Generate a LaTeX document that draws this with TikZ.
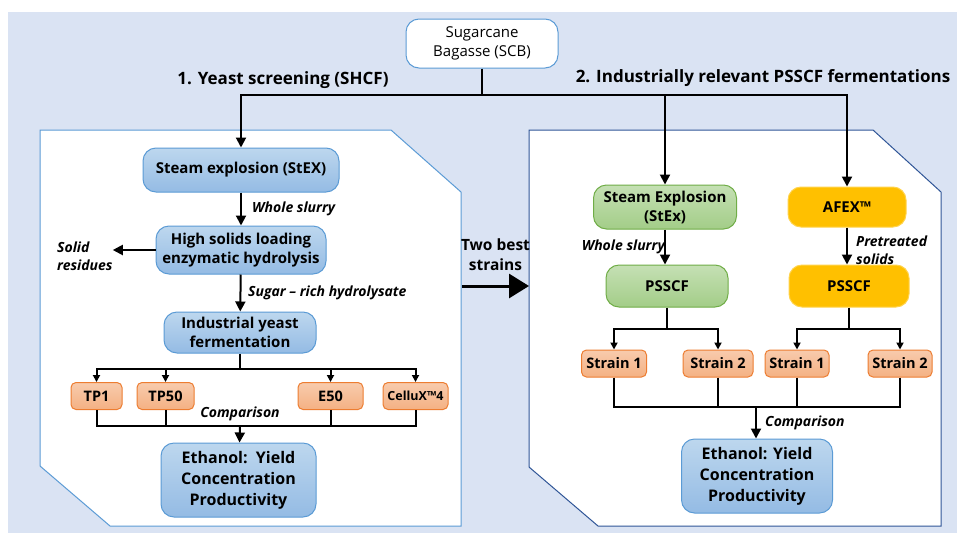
\documentclass[tikz,border=0pt]{standalone}
\usepackage{fontspec}
\setmainfont{Open Sans}
\usetikzlibrary{arrows.meta}
\definecolor{bgblue}{HTML}{DAE3F3}
\definecolor{panelL}{HTML}{5B9BD5}
\definecolor{panelR}{HTML}{2F5597}
\definecolor{bluetop}{HTML}{BDD7EE}
\definecolor{bluebot}{HTML}{94BBE4}
\definecolor{blueline}{HTML}{5B9BD5}
\definecolor{greentop}{HTML}{C5E0B4}
\definecolor{greenbot}{HTML}{A3CD88}
\definecolor{greenline}{HTML}{70AD47}
\definecolor{salmtop}{HTML}{F8CBAD}
\definecolor{salmbot}{HTML}{F4B183}
\definecolor{salmline}{HTML}{ED7D31}
\definecolor{afex}{HTML}{FFC000}
\begin{document}
\begin{tikzpicture}[x=1pt,y=-1pt,
  box/.style={rounded corners=13pt,align=center,inner sep=2pt,line width=1pt,
    font=\fontsize{15}{19}\selectfont\bfseries},
  bluebox/.style={box,draw=blueline,top color=bluetop,bottom color=bluebot},
  greenbox/.style={box,draw=greenline,top color=greentop,bottom color=greenbot},
  afexbox/.style={box,draw=afex!70!white,fill=afex},
  strainbox/.style={box,rounded corners=5pt,draw=salmline,top color=salmtop,bottom color=salmbot,
    minimum height=27pt,font=\fontsize{14.5}{17}\selectfont\bfseries},
  title/.style={inner sep=0pt,font=\fontsize{17}{20}\selectfont\bfseries},
  lbl/.style={inner sep=0pt,align=left,font=\fontsize{14}{18}\selectfont\bfseries\itshape},
  conn/.style={line width=2pt,-{Triangle[width=10pt,length=10pt]}},
  small/.style={line width=2pt,-{Triangle[width=7pt,length=7pt]}},
  line/.style={line width=2pt}]
\fill[bgblue] (8,12) rectangle (957,533);
\useasboundingbox (0,0) rectangle (957,533);
\draw[line width=1pt,draw=panelL,fill=white] (40,130) -- (391,130) -- (461,192) -- (461,526) -- (110,526) -- (40,466) -- cycle;
\draw[line width=1pt,draw=panelR,fill=white] (529,130) -- (873,130) -- (941,192) -- (941,526) -- (598,526) -- (529,467) -- cycle;

\node[box,draw=blueline,fill=white,minimum width=152pt,minimum height=49pt,font=\fontsize{15}{19}\selectfont] (scb) at (482,43.5) {Sugarcane\\Bagasse (SCB)};
\node[title] (t1) at (283,80) {1. Yeast screening (SHCF)};
\node[title] (t2) at (763,78) {2. Industrially relevant PSSCF fermentations};

\node[bluebox,minimum width=196pt,minimum height=44pt] (stex) at (241,170) {Steam explosion (StEX)};
\node[bluebox,minimum width=170pt,minimum height=48pt] (hyd) at (241,250) {High solids loading\\enzymatic hydrolysis};
\node[bluebox,minimum width=152pt,minimum height=41pt] (ferm) at (240,332.5) {Industrial yeast\\fermentation};
\node[strainbox,minimum width=51pt] (tp1) at (96.5,396) {TP1};
\node[strainbox,minimum width=57pt] (tp50) at (165.5,396) {TP50};
\node[strainbox,minimum width=65pt] (e50) at (330.5,396) {E50};
\node[strainbox,minimum width=65pt,font=\fontsize{12.5}{15}\selectfont\bfseries] (cellux) at (415.5,396) {CelluX™4};
\node[bluebox,minimum width=155pt,minimum height=74pt,font=\fontsize{16}{21}\selectfont\bfseries] (ethL) at (238.5,480) {Ethanol:\ \ Yield\\Concentration\\Productivity};

\node[greenbox,minimum width=143pt,minimum height=44pt] (stexR) at (665,207) {Steam Explosion\\(StEx)};
\node[afexbox,minimum width=118pt,minimum height=40pt] (afexR) at (847,207) {AFEX™};
\node[greenbox,minimum width=122pt,minimum height=42pt] (psG) at (667,286) {PSSCF};
\node[afexbox,minimum width=120pt,minimum height=42pt] (psO) at (849,286) {PSSCF};
\node[strainbox,minimum width=65pt] (s1a) at (614,363.5) {Strain 1};
\node[strainbox,minimum width=70pt] (s2a) at (718,363.5) {Strain 2};
\node[strainbox,minimum width=64pt] (s1b) at (797,363.5) {Strain 1};
\node[strainbox,minimum width=64pt] (s2b) at (900,363.5) {Strain 2};
\node[bluebox,minimum width=151pt,minimum height=74pt,font=\fontsize{16}{21}\selectfont\bfseries] (ethR) at (757,476) {Ethanol: Yield\\Concentration\\Productivity};

\node[lbl,anchor=west] (ws1) at (252,209) {Whole slurry};
\node[lbl,anchor=west] (solid) at (57,256) {Solid\\residues};
\node[lbl,anchor=west] (sugar) at (248,293) {Sugar – rich hydrolysate};
\node[lbl] (cmp1) at (240,414) {Comparison};
\node[lbl,anchor=east] (ws2) at (665,247) {Whole slurry};
\node[lbl,anchor=west] (pre) at (856,250) {Pretreated\\solids};
\node[lbl,anchor=west] (cmp2) at (765,423) {Comparison};
\node[inner sep=0pt,align=center,font=\fontsize{15.5}{20}\selectfont\bfseries] (best) at (495.5,255) {Two best\\strains};

\coordinate (split) at (482,95);
\draw[line] (scb) -- (split);
\draw[conn] (split) -| (stex);
\draw[conn] (split) -| (stexR);
\draw[conn] (split) -| (afexR);

\draw[conn] (stex) -- (hyd);
\draw[conn] (hyd.west) -- (hyd.west -| solid.east);
\draw[conn] (hyd) -- (ferm);
\coordinate (fb) at (240,369);
\draw[line] (ferm) -- (fb);
\foreach \n in {tp1,tp50,e50,cellux}
{
	\draw[small] (fb) -| (\n);
}
\coordinate (cmpL) at (240,426);
\foreach \n in {tp1,tp50,e50,cellux}
{
	\draw[line] (\n) |- (cmpL);
}
\draw[conn] (cmpL) -- (ethL);

\coordinate (lp) at (462,286);
\coordinate (rp) at (529,286);
\draw[line width=3pt,-{Triangle[width=24pt,length=20pt]}] (lp) -- (rp);

\draw[conn] (stexR.south) -- (stexR.south |- psG.north);
\draw[conn] (afexR.south) -- (afexR.south |- psO.north);
\coordinate (gb) at (667,329);
\coordinate (ob) at (849,329);
\draw[line] (psG) -- (gb);
\draw[line] (psO) -- (ob);
\foreach \n in {s1a,s2a}
{
	\draw[small] (gb) -| (\n);
}
\foreach \n in {s1b,s2b}
{
	\draw[small] (ob) -| (\n);
}
\coordinate (cmpR) at (756,407);
\foreach \n in {s1a,s2a,s1b,s2b}
{
	\draw[line] (\n) |- (cmpR);
}
\draw[conn] (cmpR) -- (cmpR |- ethR.north);
\end{tikzpicture}
\end{document}
